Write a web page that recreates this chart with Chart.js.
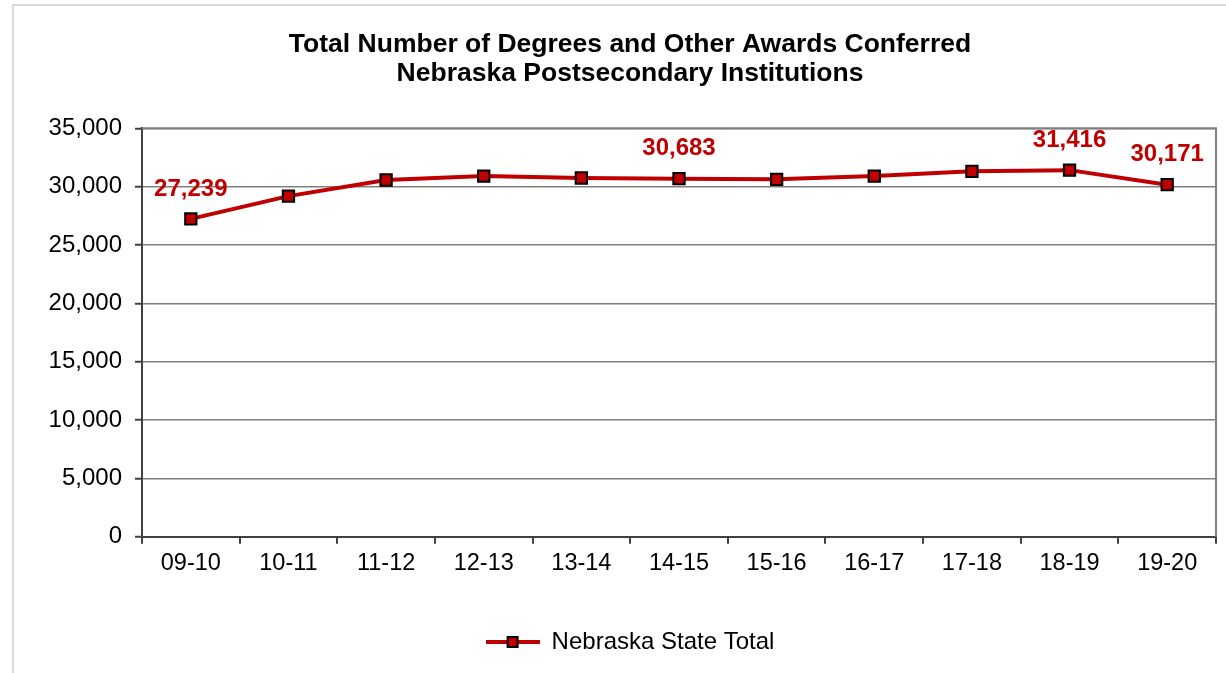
<!DOCTYPE html>
<html>
<head>
<meta charset="utf-8">
<script src="https://cdn.jsdelivr.net/npm/chart.js@4"></script>
<style>
  html, body { margin: 0; padding: 0; background: #fff; }
  #wrap { width: 1226px; height: 673px; }
</style>
</head>
<body>
<div id="wrap"><canvas id="awardsChart" width="1226" height="673"></canvas></div>
<script>
const years = ['09-10', '10-11', '11-12', '12-13', '13-14', '14-15', '15-16', '16-17', '17-18', '18-19', '19-20'];
const stateTotal = [27239, 29190, 30570, 30910, 30740, 30683, 30630, 30910, 31310, 31416, 30171];
const labelledPoints = [0, 5, 9, 10]; // 값 표시할 점
const titleLines = ['Total Number of Degrees and Other Awards Conferred', 'Nebraska Postsecondary Institutions'];
const seriesName = 'Nebraska State Total';

const red = '#c00000';
const font = '"Liberation Sans", Arial, sans-serif';
const fmt = v => v.toLocaleString('en-US');

// 범례 아이콘 (선 + 사각형)
const legendIcon = document.createElement('canvas');
legendIcon.width = 54;
legendIcon.height = 14;
(function () {
    const c = legendIcon.getContext('2d');
    c.strokeStyle = red;
    c.lineWidth = 4;
    c.beginPath();
    c.moveTo(0, 7);
    c.lineTo(54, 7);
    c.stroke();
    c.fillStyle = red;
    c.fillRect(22, 2, 10, 10);
    c.strokeStyle = '#000';
    c.lineWidth = 2;
    c.strokeRect(22, 2, 10, 10);
})();

// 바깥 테두리 + 차트 영역 위/오른쪽 테두리
const framePlugin = {
    id: 'frame',
    beforeDraw(chart) {
        const c = chart.ctx;
        c.save();
        c.strokeStyle = '#d9d9d9';
        c.lineWidth = 2;
        c.strokeRect(13, 5, 1400, 800);
        c.restore();
    },
    afterDatasetsDraw(chart) {
        const a = chart.chartArea;
        const c = chart.ctx;
        c.save();
        c.strokeStyle = '#808080';
        c.lineWidth = 2;
        c.beginPath();
        c.moveTo(a.left, a.top);
        c.lineTo(a.right, a.top);
        c.lineTo(a.right, a.bottom);
        c.stroke();
        c.restore();
    }
};

// 점 위에 값 표시
const valueLabels = {
    id: 'valueLabels',
    afterDraw(chart) {
        const meta = chart.getDatasetMeta(0);
        const c = chart.ctx;
        c.save();
        c.font = 'bold 24px ' + font;
        c.fillStyle = red;
        c.textAlign = 'center';
        c.textBaseline = 'middle';
        labelledPoints.forEach(i => {
            const p = meta.data[i];
            c.fillText(fmt(stateTotal[i]), p.x, p.y - 30);
        });
        c.restore();
    }
};

const ctx = document.getElementById('awardsChart').getContext('2d');
new Chart(ctx, {
    type: 'line',
    data: {
        labels: years,
        datasets: [{
            label: seriesName,
            data: stateTotal,
            borderColor: red,
            borderWidth: 4,
            backgroundColor: red,
            pointStyle: 'rect',
            pointRadius: 8,
            pointBorderColor: '#000',
            pointBorderWidth: 2,
            pointBackgroundColor: red,
            tension: 0
        }]
    },
    options: {
        responsive: false,
        animation: false,
        layout: { padding: { left: 44, right: 10, top: 0, bottom: 9 } },
        scales: {
            y: {
                min: 0,
                max: 35000,
                ticks: {
                    stepSize: 5000,
                    color: '#000',
                    padding: 13,
                    font: { family: font, size: 24 },
                    callback: v => fmt(v)
                },
                grid: { color: '#808080', lineWidth: 1.5, tickLength: 7, tickColor: '#404040', tickWidth: 2 },
                border: { color: '#404040', width: 2 },
                afterFit: s => { s.width = 98; }
            },
            x: {
                offset: true,
                ticks: {
                    color: '#000',
                    padding: 6,
                    font: { family: font, size: 23.5 }
                },
                grid: { offset: true, drawOnChartArea: false, tickLength: 7, color: '#404040', lineWidth: 2 },
                border: { color: '#404040', width: 2 },
                afterFit: s => { s.height += 26; }
            }
        },
        plugins: {
            title: {
                display: true,
                text: titleLines,
                color: '#000',
                font: { family: font, size: 26.5, weight: 'bold', lineHeight: 1.1 },
                padding: { top: 30, bottom: 40 }
            },
            legend: {
                position: 'bottom',
                labels: {
                    usePointStyle: true,
                    pointStyle: legendIcon,
                    pointStyleWidth: 54,
                    color: '#000',
                    padding: 20,
                    font: { family: font, size: 24 }
                }
            },
            tooltip: { enabled: false }
        }
    },
    plugins: [framePlugin, valueLabels]
});
</script>
</body>
</html>
